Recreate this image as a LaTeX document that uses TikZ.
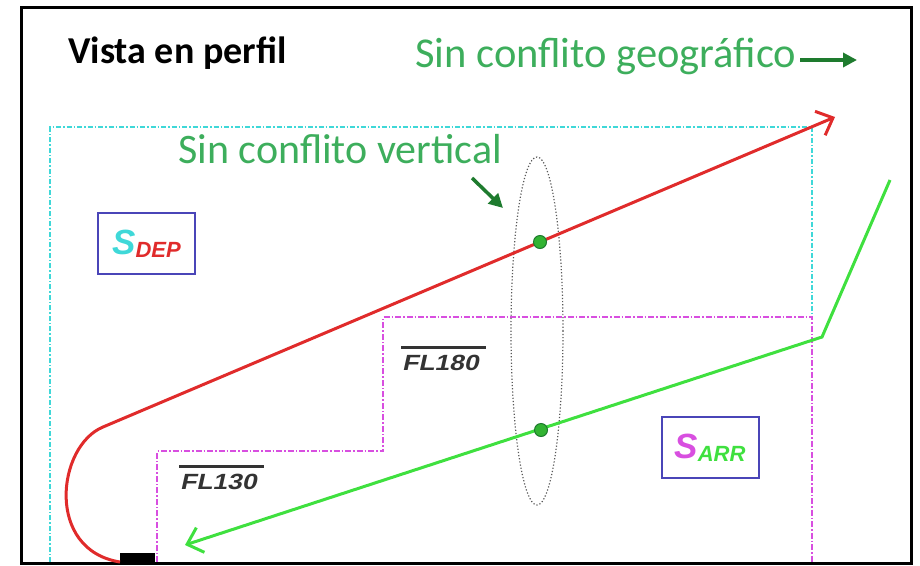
\documentclass[tikz,border=0pt]{standalone}
\usepackage{fontspec}
\setmainfont{Carlito}
\newfontfamily\arialfont{Liberation Sans}
\newfontfamily\flfont[FakeStretch=1.2,FakeSlant=0.22]{Liberation Sans}
\usetikzlibrary{arrows.meta,positioning,shapes.geometric}
\definecolor{txtgreen}{HTML}{3DAE5C}
\definecolor{arrgreen}{HTML}{1E7B2E}
\definecolor{trackred}{HTML}{E02B2B}
\definecolor{trackgreen}{HTML}{3FE03F}
\definecolor{limcyan}{HTML}{3FD8D8}
\definecolor{limmag}{HTML}{D84FE0}
\definecolor{boxblue}{HTML}{4A45B8}
\tikzset{
  sector/.style={draw=boxblue, line width=2pt, minimum width=97pt, minimum height=61pt, inner sep=0pt},
  fllabel/.style={font=\flfont\bfseries\fontsize{22}{22}\selectfont, text=black!80, inner sep=1pt},
  greentext/.style={text=txtgreen, inner sep=0pt},
  cyanlim/.style={draw=limcyan, line width=1.6pt, dash pattern=on 5pt off 2pt on 1.5pt off 2pt},
  maglim/.style={draw=limmag, line width=1.8pt, dash pattern=on 6pt off 2pt on 1.5pt off 2pt},
  hint/.style={draw=arrgreen, line width=3.5pt, -{Triangle[length=14pt,width=14pt]}},
  fixdot/.style={circle, fill=trackgreen!80!black, draw=arrgreen, line width=1pt, minimum width=11pt, minimum height=13pt, inner sep=0pt}
}
\begin{document}
\begin{tikzpicture}[x=1pt,y=-1pt]
    \useasboundingbox (0,0) rectangle (920,565);
    % outer frame
    \draw[line width=3pt] (21,7) rectangle (911,563);
    % titles
    \node[anchor=base west, font=\bfseries\fontsize{38}{38}\selectfont, inner sep=0pt] (title) at (68,63) {Vista en perfil};
    \node[greentext, anchor=base west, font=\fontsize{42.5}{42.5}\selectfont] (geo) at (415,67) {Sin conflito geográfico};
    \coordinate (g1) at (800,60);
    \coordinate (g2) at (857,60);
    \draw[hint] (g1) -- (g2);
    % sector limits
    \coordinate (c1) at (50,562);
    \coordinate (c2) at (50,127);
    \coordinate (c3) at (812,127);
    \coordinate (c4) at (812,317);
    \draw[cyanlim] (c1) -- (c2) -- (c3) -- (c4);
    \coordinate (m1) at (157,562);
    \coordinate (m2) at (157,451);
    \coordinate (m3) at (383,451);
    \coordinate (m4) at (383,317);
    \coordinate (m5) at (812,317);
    \coordinate (m6) at (812,562);
    \draw[maglim] (m1) -- (m2) -- (m3) -- (m4) -- (m5) -- (m6);
    % flight levels
    \node[fllabel, anchor=base west] (fl180) at (401,370) {FL180};
    \draw[line width=2.5pt, black!80] ([yshift=6pt]fl180.north west) -- ([xshift=6pt,yshift=6pt]fl180.north east);
    \node[fllabel, anchor=base west] (fl130) at (179,489) {FL130};
    \draw[line width=2.5pt, black!80] ([yshift=6pt]fl130.north west) -- ([xshift=6pt,yshift=6pt]fl130.north east);
    % sectors
    \node[sector] (sdep) at (146.5,243.5) {\arialfont\bfseries\itshape\textcolor{limcyan}{\fontsize{35}{35}\selectfont S}\raisebox{-3pt}{\textcolor{trackred}{\fontsize{22}{22}\selectfont DEP}}\hspace{12pt}};
    \node[sector] (sarr) at (710,447.5) {\arialfont\bfseries\itshape\textcolor{limmag}{\fontsize{35}{35}\selectfont S}\raisebox{-3pt}{\textcolor{trackgreen}{\fontsize{22}{22}\selectfont ARR}}\hspace{8pt}};
    % runway
    \node[fill=black, minimum width=35pt, minimum height=9pt, inner sep=0pt, anchor=south west] (rwy) at (120,562) {};
    % vertical separation
    \node[ellipse, draw=gray!70!black, dotted, line width=1.2pt, minimum width=52pt, minimum height=348pt] (vert) at (537,331) {};
    \node[greentext, anchor=base west, font=\fontsize{42}{42}\selectfont] (vtxt) at (178,163) {Sin conflito vertical};
    \coordinate (h1) at (472,178);
    \coordinate (h2) at (503,208);
    \draw[hint] (h1) -- (h2);
    % departure track
    \coordinate (d1) at (103,427);
    \coordinate (d2) at (835,117);
    \draw[trackred, line width=3pt, -{Straight Barb[length=14pt,width=26pt]}] (rwy.south west) .. controls (45,550) and (57,446) .. (d1) -- (d2);
    % arrival track
    \coordinate (a1) at (890,180);
    \coordinate (a2) at (822,337);
    \coordinate (a3) at (185,545);
    \draw[trackgreen, line width=3pt, -{Straight Barb[length=14pt,width=26pt]}] (a1) -- (a2) -- (a3);
    % crossing points
    \node[fixdot] (p1) at (540,242) {};
    \node[fixdot] (p2) at (541,430) {};
\end{tikzpicture}
\end{document}
